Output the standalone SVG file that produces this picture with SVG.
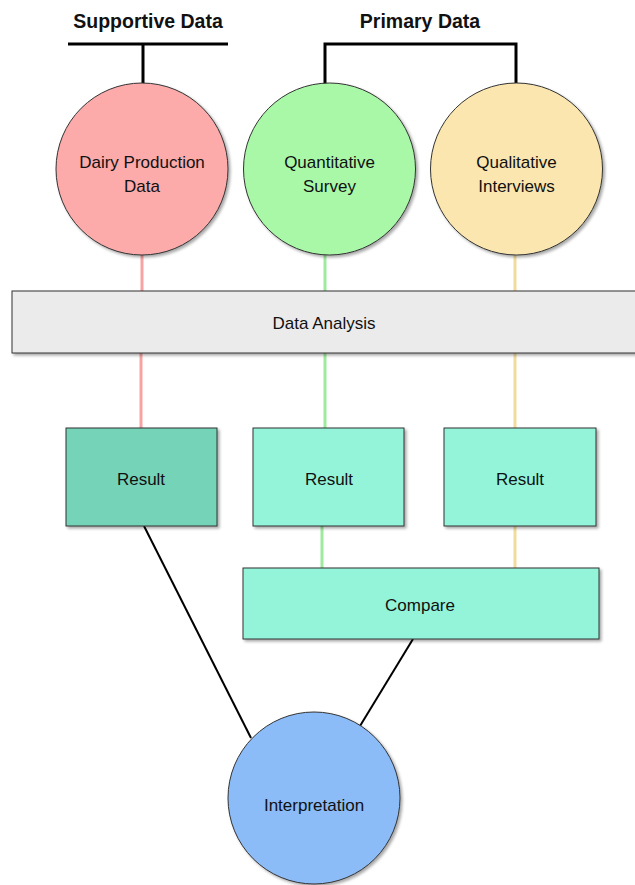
<svg xmlns="http://www.w3.org/2000/svg" width="635" height="885" viewBox="0 0 635 885">
<defs>
<filter id="sh" x="-10%" y="-10%" width="130%" height="130%">
<feGaussianBlur in="SourceAlpha" stdDeviation="1.5"/>
<feOffset dx="1.5" dy="1.5" result="b"/>
<feComponentTransfer><feFuncA type="linear" slope="0.35"/></feComponentTransfer>
<feMerge><feMergeNode/><feMergeNode in="SourceGraphic"/></feMerge>
</filter>
</defs>
<style>
text{font-family:"Liberation Sans",Arial,sans-serif;fill:#111;text-anchor:middle}
.h{font-size:19.5px;font-weight:bold}
.t{font-size:17px}
.node{stroke:#333;stroke-width:1;filter:url(#sh)}
.br{stroke:#000;stroke-width:3;fill:none}
.ln{stroke:#000;stroke-width:2;fill:none}
.pk{stroke:#f7a3a3;stroke-width:3}
.gr{stroke:#9eea9e;stroke-width:3}
.yl{stroke:#f1dc9e;stroke-width:3}
</style>
<rect width="635" height="885" fill="#fff"/>
<g id="connectors">
<path class="br" d="M68 44H228M143 44V84"/>
<path class="br" d="M325 84V44H516V84"/>
<line class="pk" x1="142" y1="255" x2="142" y2="291"/>
<line class="gr" x1="325" y1="255" x2="325" y2="291"/>
<line class="yl" x1="515" y1="255" x2="515" y2="291"/>
<line class="pk" x1="141" y1="353" x2="141" y2="428"/>
<line class="gr" x1="325" y1="353" x2="325" y2="428"/>
<line class="yl" x1="515" y1="353" x2="515" y2="428"/>
<line class="gr" x1="322" y1="526" x2="322" y2="568"/>
<line class="yl" x1="515" y1="526" x2="515" y2="568"/>
<line class="ln" x1="144" y1="526" x2="251" y2="738"/>
<line class="ln" x1="413" y1="639" x2="360" y2="726"/>
</g>
<g id="supportive-label"><text class="h" x="148" y="28">Supportive Data</text></g>
<g id="primary-label"><text class="h" x="420" y="28">Primary Data</text></g>
<g id="dairy">
<circle class="node" cx="142" cy="169" r="86" fill="#fcaaaa"/>
<text class="t" x="142" y="168">Dairy Production</text>
<text class="t" x="142" y="192">Data</text>
</g>
<g id="survey">
<circle class="node" cx="329.5" cy="169" r="86" fill="#a8f8a8"/>
<text class="t" x="329.5" y="168">Quantitative</text>
<text class="t" x="329.5" y="192">Survey</text>
</g>
<g id="interviews">
<circle class="node" cx="516.5" cy="169" r="86" fill="#fae6ae"/>
<text class="t" x="516.5" y="168">Qualitative</text>
<text class="t" x="516.5" y="192">Interviews</text>
</g>
<g id="analysis">
<rect class="node" x="12" y="291" width="630" height="62" fill="#ebebeb"/>
<text class="t" x="324" y="329">Data Analysis</text>
</g>
<g id="result1">
<rect class="node" x="66" y="428" width="151" height="98" fill="#75d3b8"/>
<text class="t" x="141" y="485">Result</text>
</g>
<g id="result2">
<rect class="node" x="253" y="428" width="151" height="98" fill="#93f4d9"/>
<text class="t" x="329" y="485">Result</text>
</g>
<g id="result3">
<rect class="node" x="444" y="428" width="152" height="98" fill="#93f4d9"/>
<text class="t" x="520" y="485">Result</text>
</g>
<g id="compare">
<rect class="node" x="243" y="568" width="356" height="71" fill="#93f4d9"/>
<text class="t" x="420" y="611">Compare</text>
</g>
<g id="interpretation">
<circle class="node" cx="314" cy="798" r="86" fill="#8bbcf8"/>
<text class="t" x="314" y="811">Interpretation</text>
</g>
</svg>
